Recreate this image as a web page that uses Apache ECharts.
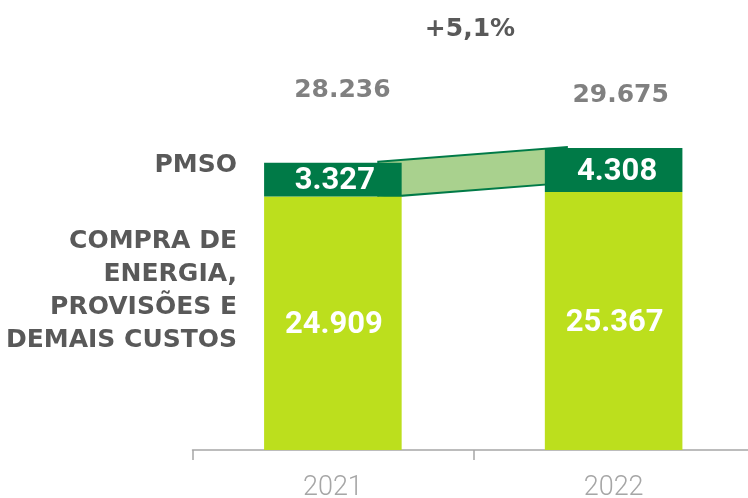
<!DOCTYPE html>
<html>
<head>
<meta charset="utf-8">
<script src="https://cdn.jsdelivr.net/npm/echarts@6/dist/echarts.min.js"></script>
<style>
html, body { margin: 0; padding: 0; background: #fff; }
#main { width: 748px; height: 498px; }
</style>
</head>
<body>
<div id="main"></div>
<script>
var years = ['2021', '2022'];
var compraVals = [24909, 25367];
var pmsoVals = [3327, 4308];
var totals = [28236, 29675];
var seriesNames = ['COMPRA DE\nENERGIA,\nPROVISÕES E\nDEMAIS CUSTOS', 'PMSO'];
var growthText = '+5,1%';

var lightGreen = '#bcdf1d';
var darkGreen = '#007a47';

function fmt(n) {
    return String(n).replace(/\B(?=(\d{3})+(?!\d))/g, '.');
}

var chart = echarts.init(document.getElementById('main'));

var option = {
    animation: false,
    grid: { left: 192.5, right: -6, top: 43, bottom: 48, containLabel: false, outerBoundsMode: 'none' },
    xAxis: {
        type: 'category',
        data: years,
        axisLine: { lineStyle: { color: '#a6a6a6', width: 1.5 } },
        axisTick: { show: true, length: 10, lineStyle: { color: '#a6a6a6', width: 1.5 } },
        axisLabel: {
            color: '#a6a6a6', fontFamily: 'Roboto', fontWeight: 300, fontSize: 27, margin: 25
        }
    },
    yAxis: { type: 'value', min: 0, max: 40000, show: false },
    series: [
        {
            type: 'custom',
            z: 1,
            data: [[0]],
            renderItem: function (params, api) {
                var p0 = api.coord([0, totals[0]]);
                var p1 = api.coord([1, totals[1]]);
                var bw = api.size([1, 0])[0] * 0.49;
                var h = api.size([0, pmsoVals[0]])[1] + 2;
                var xA = p0[0] + bw / 2 - 0.17 * bw;
                var xB = p1[0] - bw / 2 + 0.16 * bw;
                return {
                    type: 'polygon',
                    shape: { points: [[xA, p0[1] - 1], [xB, p1[1] - 1], [xB, p1[1] - 1 + h], [xA, p0[1] - 1 + h]] },
                    style: { fill: '#a9d18e', stroke: darkGreen, lineWidth: 2 }
                };
            }
        },
        {
            name: seriesNames[0],
            type: 'bar',
            stack: 'cost',
            z: 2,
            barWidth: '49%',
            itemStyle: { color: lightGreen },
            label: {
                show: true, position: 'inside', color: '#fff',
                fontFamily: 'Roboto', fontWeight: 'bold', fontSize: 31,
                formatter: function (p) { return fmt(p.value); }
            },
            data: compraVals.map(function (v) {
                return { value: v, label: { offset: [1, 2] } };
            })
        },
        {
            name: seriesNames[1],
            type: 'bar',
            stack: 'cost',
            z: 2,
            barWidth: '49%',
            itemStyle: { color: darkGreen },
            label: {
                show: true, position: 'inside', color: '#fff',
                fontFamily: 'Roboto', fontWeight: 'bold', fontSize: 31,
                formatter: function (p) { return fmt(p.value); }
            },
            data: pmsoVals.map(function (v, i) {
                return { value: v, label: { offset: [i === 0 ? 2 : 3.5, i === 0 ? 1.5 : 2] } };
            })
        },
        {
            type: 'bar',
            z: 0,
            barWidth: '49%',
            barGap: '-100%',
            itemStyle: { color: 'rgba(0,0,0,0)' },
            label: {
                show: true, position: 'top', distance: 0, color: '#808080',
                fontFamily: 'DejaVu Sans', fontWeight: 'bold', fontSize: 25, lineHeight: 25,
                formatter: function (p) { return fmt(p.value); }
            },
            data: totals.map(function (v, i) {
                return { value: v, label: { offset: i === 0 ? [9.5, -59.5] : [7, -40.5] } };
            })
        }
    ],
    graphic: [
        {
            type: 'text', x: 237, y: 165,
            style: {
                text: seriesNames[1], align: 'right', verticalAlign: 'middle',
                fill: '#595959', font: 'bold 25px "DejaVu Sans"'
            }
        },
        {
            type: 'text', x: 237, y: 291,
            style: {
                text: seriesNames[0], align: 'right', verticalAlign: 'middle', lineHeight: 33,
                fill: '#595959', font: 'bold 25px "DejaVu Sans"'
            }
        },
        {
            type: 'text', x: 470, y: 29,
            style: {
                text: growthText, align: 'center', verticalAlign: 'middle',
                fill: '#595959', font: 'bold 25px "DejaVu Sans"'
            }
        }
    ]
};

chart.setOption(option);
</script>
</body>
</html>
